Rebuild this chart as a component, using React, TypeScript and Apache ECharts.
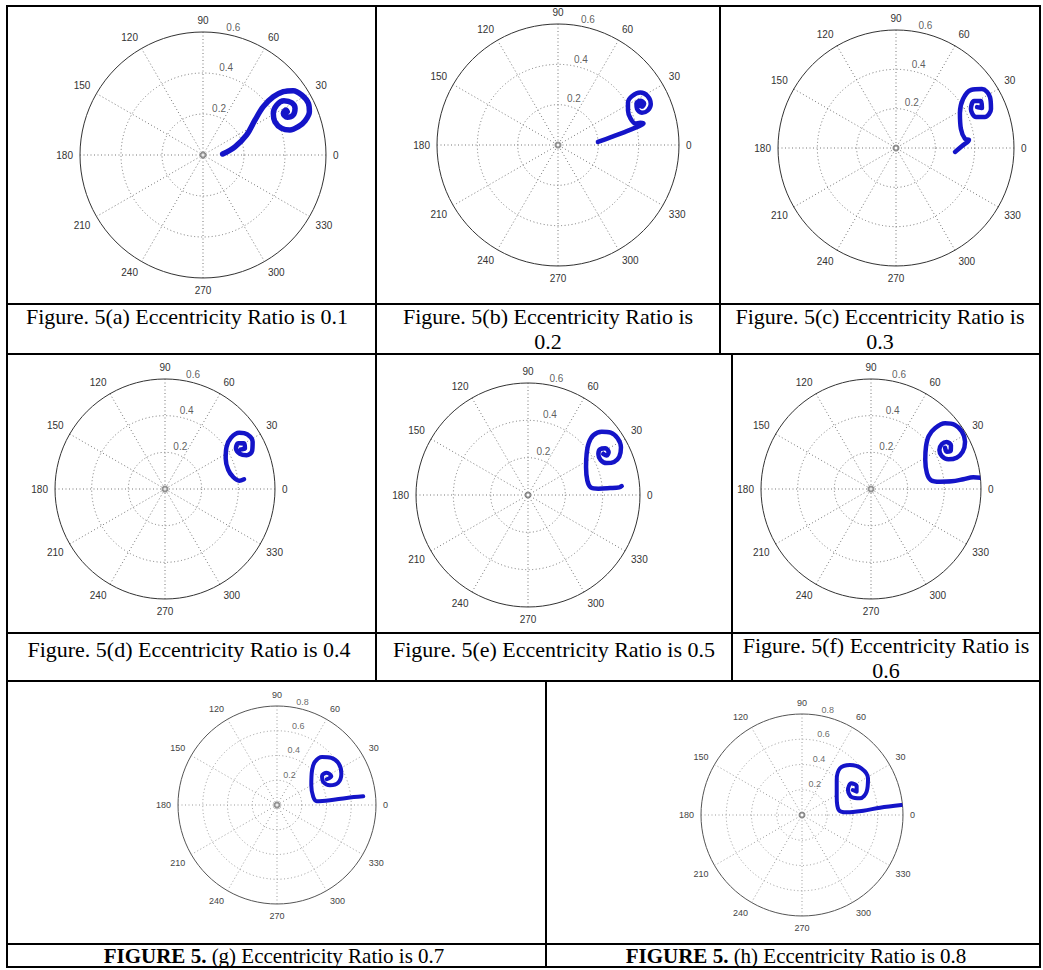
import React, { useEffect, useRef } from "react";
import * as echarts from "echarts";

// ---------- data (x, y components of the journal-centre orbit, in eccentricity units) ----------
const SPIRAL_A: number[][] = [
  [0.096, 0.005], [0.156, 0.04], [0.213, 0.098], [0.254, 0.171], [0.294, 0.236], [0.343, 0.284],
  [0.392, 0.309], [0.44, 0.314], [0.481, 0.293], [0.514, 0.252], [0.519, 0.211], [0.498, 0.167],
  [0.465, 0.138], [0.424, 0.122], [0.384, 0.13], [0.351, 0.162], [0.343, 0.203], [0.36, 0.244],
  [0.395, 0.265], [0.433, 0.255], [0.449, 0.228], [0.44, 0.195], [0.411, 0.184], [0.392, 0.203],
  [0.405, 0.22], [0.411, 0.211],
];
const SPIRAL_B: number[][] = [
  [0.198, 0.015], [0.263, 0.039], [0.327, 0.063], [0.384, 0.086], [0.424, 0.106], [0.408, 0.11],
  [0.384, 0.106], [0.36, 0.131], [0.347, 0.171], [0.347, 0.211], [0.368, 0.243], [0.408, 0.26],
  [0.444, 0.243], [0.46, 0.203], [0.445, 0.171], [0.416, 0.16], [0.392, 0.179], [0.389, 0.206],
  [0.408, 0.219], [0.427, 0.206], [0.416, 0.19], [0.405, 0.2],
];
const SPIRAL_C: number[][] = [
  [0.3, -0.02], [0.336, 0.01], [0.371, 0.041], [0.351, 0.046], [0.33, 0.097], [0.325, 0.178],
  [0.341, 0.249], [0.381, 0.295], [0.437, 0.3], [0.478, 0.259], [0.483, 0.198], [0.452, 0.158],
  [0.407, 0.158], [0.381, 0.198], [0.397, 0.239], [0.432, 0.239], [0.437, 0.203], [0.412, 0.208],
];
const SPIRAL_D: number[][] = [
  [0.431, 0.053], [0.405, 0.045], [0.373, 0.064], [0.345, 0.104], [0.331, 0.167], [0.336, 0.231],
  [0.36, 0.28], [0.405, 0.307], [0.449, 0.298], [0.478, 0.258], [0.475, 0.207], [0.445, 0.184],
  [0.409, 0.191], [0.387, 0.222], [0.4, 0.249], [0.431, 0.249], [0.436, 0.222], [0.413, 0.216],
];
const SPIRAL_E: number[][] = [
  [0.502, 0.048], [0.489, 0.041], [0.439, 0.037], [0.377, 0.034], [0.336, 0.041], [0.318, 0.077],
  [0.311, 0.148], [0.314, 0.22], [0.325, 0.277], [0.35, 0.32], [0.395, 0.339], [0.443, 0.334],
  [0.48, 0.304], [0.498, 0.255], [0.489, 0.205], [0.461, 0.177], [0.421, 0.171], [0.389, 0.188],
  [0.377, 0.22], [0.387, 0.246], [0.414, 0.25], [0.432, 0.23], [0.421, 0.211], [0.403, 0.22],
];
const SPIRAL_F: number[][] = [
  [0.595, 0.062], [0.558, 0.064], [0.504, 0.053], [0.44, 0.042], [0.376, 0.04], [0.326, 0.049],
  [0.305, 0.086], [0.296, 0.158], [0.3, 0.231], [0.315, 0.289], [0.349, 0.331], [0.404, 0.358],
  [0.458, 0.349], [0.496, 0.313], [0.513, 0.258], [0.5, 0.203], [0.467, 0.171], [0.422, 0.162],
  [0.386, 0.18], [0.373, 0.213], [0.387, 0.245], [0.413, 0.256], [0.436, 0.238], [0.435, 0.209],
  [0.413, 0.203], [0.404, 0.225],
];
const SPIRAL_G: number[][] = [
  [0.697, 0.07], [0.563, 0.057], [0.428, 0.038], [0.321, 0.03], [0.293, 0.065], [0.277, 0.159],
  [0.283, 0.28], [0.305, 0.347], [0.364, 0.388], [0.439, 0.38], [0.499, 0.334], [0.52, 0.253],
  [0.493, 0.178], [0.428, 0.159], [0.374, 0.186], [0.364, 0.234], [0.402, 0.261], [0.439, 0.232],
  [0.402, 0.208],
];
const SPIRAL_H: number[][] = [
  [0.787, 0.079], [0.618, 0.058], [0.486, 0.034], [0.354, 0.021], [0.291, 0.04], [0.275, 0.145],
  [0.275, 0.277], [0.301, 0.37], [0.38, 0.396], [0.47, 0.37], [0.523, 0.291], [0.512, 0.185],
  [0.459, 0.132], [0.396, 0.14], [0.364, 0.198], [0.39, 0.251], [0.433, 0.23], [0.433, 0.185],
  [0.402, 0.198],
];

const RADIUS_TICKS_06 = [0.2, 0.4, 0.6];
const RADIUS_TICKS_08 = [0.2, 0.4, 0.6, 0.8];

const CAPTIONS: string[][] = [
  ["Figure. 5(a) Eccentricity Ratio is 0.1"],
  ["Figure. 5(b) Eccentricity Ratio is", "0.2"],
  ["Figure. 5(c) Eccentricity Ratio is", "0.3"],
  ["Figure. 5(d) Eccentricity Ratio is 0.4"],
  ["Figure. 5(e) Eccentricity Ratio is 0.5"],
  ["Figure. 5(f) Eccentricity Ratio is", "0.6"],
];
const BOLD_CAPTIONS = [
  ["FIGURE 5.", " (g) Eccentricity Ratio is 0.7"],
  ["FIGURE 5.", " (h) Eccentricity Ratio is 0.8"],
];

// ---------- layout ----------
const PLOTS = [
  { data: SPIRAL_A, ticks: RADIUS_TICKS_06, cx: 203, cy: 155, r: 123, lw: 5.5, fs: 10, light: false },
  { data: SPIRAL_B, ticks: RADIUS_TICKS_06, cx: 558, cy: 145, r: 121, lw: 4.5, fs: 10, light: false },
  { data: SPIRAL_C, ticks: RADIUS_TICKS_06, cx: 896, cy: 148, r: 118, lw: 4.5, fs: 10, light: false },
  { data: SPIRAL_D, ticks: RADIUS_TICKS_06, cx: 165, cy: 489, r: 110, lw: 4.5, fs: 10, light: false },
  { data: SPIRAL_E, ticks: RADIUS_TICKS_06, cx: 528, cy: 495, r: 112, lw: 4.5, fs: 10, light: false },
  { data: SPIRAL_F, ticks: RADIUS_TICKS_06, cx: 871, cy: 489, r: 110, lw: 4.5, fs: 10, light: false },
  { data: SPIRAL_G, ticks: RADIUS_TICKS_08, cx: 277, cy: 805, r: 99, lw: 4, fs: 9, light: true },
  { data: SPIRAL_H, ticks: RADIUS_TICKS_08, cx: 802, cy: 815, r: 101, lw: 4, fs: 9, light: true },
];

const CAPTION_POS = [
  { x: 187, y: 316 },
  { x: 548, y: 316 },
  { x: 880, y: 316 },
  { x: 189, y: 649 },
  { x: 554, y: 649 },
  { x: 886, y: 645 },
];
const LINE_STEP = 25;
const BOLD_POS = [
  { x: 274, y: 956 },
  { x: 796, y: 956 },
];

const TABLE_LINES = [
  [6, 6, 1041, 6],
  [6, 967, 1041, 967],
  [7, 6, 7, 967],
  [1040, 6, 1040, 967],
  [7, 304, 1040, 304],
  [7, 354, 1040, 354],
  [7, 633, 1040, 633],
  [7, 681, 1040, 681],
  [7, 944, 1040, 944],
  [376, 6, 376, 681],
  [720, 6, 720, 354],
  [732, 354, 732, 681],
  [546, 681, 546, 967],
];

function toPolar(pts: number[][]) {
  return pts.map(([x, y]) => {
    const r = Math.hypot(x, y);
    let a = (Math.atan2(y, x) * 180) / Math.PI;
    if (a < 0) a += 360;
    return [r, a];
  });
}

function buildOption() {
  const polar = PLOTS.map((p) => ({ center: [p.cx, p.cy], radius: p.r }));
  const angleAxis = PLOTS.map((p, i) => ({
    polarIndex: i,
    type: "value",
    min: 0,
    max: 360,
    interval: 30,
    startAngle: 0,
    clockwise: false,
    axisLine: { show: true, lineStyle: { color: p.light ? "#555" : "#333", width: 1 } },
    axisTick: { show: false },
    axisLabel: {
      show: true,
      margin: 7,
      fontSize: p.fs,
      fontFamily: "Liberation Sans",
      color: p.light ? "#444" : "#333",
      formatter: (v: number) => (v >= 360 ? "" : String(v)),
    },
    splitLine: {
      show: true,
      lineStyle: { color: p.light ? "#9a9a9a" : "#777", width: 1, type: [1, 2.5] },
    },
  }));
  const radiusAxis = PLOTS.map((p, i) => {
    const max = p.ticks[p.ticks.length - 1];
    const colors = [
      "rgba(0,0,0,0)",
      ...p.ticks.slice(0, -1).map(() => (p.light ? "#9a9a9a" : "#777")),
      "rgba(0,0,0,0)",
    ];
    return {
      polarIndex: i,
      type: "value",
      min: 0,
      max,
      interval: 0.2,
      axisLine: { show: false },
      axisTick: { show: false },
      axisLabel: { show: false },
      splitLine: { show: true, lineStyle: { color: colors, width: 1, type: [1, 2.5] } },
    };
  });
  const series: any[] = [];
  PLOTS.forEach((p, i) => {
    series.push({
      type: "scatter",
      coordinateSystem: "polar",
      polarIndex: i,
      data: [[0, 0]],
      symbol: "emptyCircle",
      symbolSize: 5,
      itemStyle: { color: "#777", borderWidth: 1 },
      silent: true,
      z: 3,
    });
    series.push({
      type: "scatter",
      coordinateSystem: "polar",
      polarIndex: i,
      data: p.ticks.map((t) => [t, 80]),
      symbolSize: 1,
      itemStyle: { color: "rgba(0,0,0,0)" },
      label: {
        show: true,
        position: "top",
        distance: 1,
        align: "left",
        offset: [2, 0],
        fontSize: p.fs,
        fontFamily: "Liberation Sans",
        color: p.light ? "#444" : "#333",
        formatter: (d: any) => Number(d.value[0]).toFixed(1),
      },
      silent: true,
      z: 4,
    });
    series.push({
      type: "line",
      coordinateSystem: "polar",
      polarIndex: i,
      data: toPolar(p.data),
      showSymbol: false,
      symbol: "none",
      smooth: 0.35,
      lineStyle: { color: "#1414c8", width: p.lw, cap: "round", join: "round" },
      silent: true,
      z: 5,
    });
  });

  const graphic: any[] = [];
  TABLE_LINES.forEach(([x1, y1, x2, y2]) => {
    graphic.push({
      type: "line",
      shape: { x1, y1, x2, y2 },
      style: { stroke: "#000", lineWidth: 2 },
      silent: true,
    });
  });
  CAPTIONS.forEach((lines, i) => {
    lines.forEach((t, k) => {
      graphic.push({
        type: "text",
        x: CAPTION_POS[i].x,
        y: CAPTION_POS[i].y + k * LINE_STEP,
        style: {
          text: t,
          align: "center",
          verticalAlign: "middle",
          fontSize: 22,
          fontFamily: "Liberation Serif",
          fill: "#000",
        },
        silent: true,
      });
    });
  });
  BOLD_CAPTIONS.forEach(([b, n], i) => {
    graphic.push({
      type: "text",
      x: BOLD_POS[i].x,
      y: BOLD_POS[i].y,
      style: {
        text: `{b|${b}}{n|${n}}`,
        align: "center",
        verticalAlign: "middle",
        fontSize: 21,
        fontFamily: "Liberation Serif",
        fill: "#000",
        rich: {
          b: { fontWeight: "bold", fontSize: 21, fontFamily: "Liberation Serif", fill: "#000" },
          n: { fontSize: 21, fontFamily: "Liberation Serif", fill: "#000" },
        },
      },
      silent: true,
    });
  });

  return {
    animation: false,
    backgroundColor: "#fff",
    polar,
    angleAxis,
    radiusAxis,
    series,
    graphic,
  };
}

export default function App() {
  const ref = useRef<HTMLDivElement>(null);
  useEffect(() => {
    document.body.style.margin = "0";
    if (!ref.current) return;
    const chart = echarts.init(ref.current, undefined, { renderer: "svg" });
    chart.setOption(buildOption() as any);
    return () => chart.dispose();
  }, []);
  return <div ref={ref} style={{ width: 1043, height: 970 }} />;
}
